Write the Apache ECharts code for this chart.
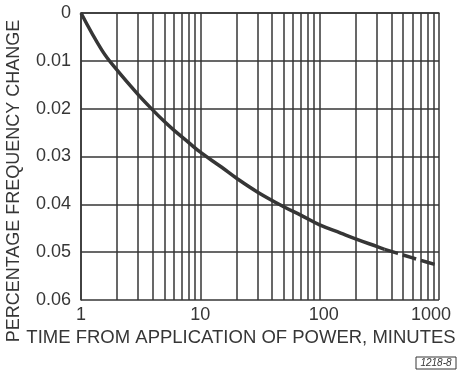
<!DOCTYPE html>
<html>
<head>
<meta charset="utf-8">
<script src="https://cdn.jsdelivr.net/npm/echarts@6/dist/echarts.min.js"></script>
<style>
  html, body { margin: 0; padding: 0; background: #fff; }
  #chart { width: 458px; height: 370px; }
</style>
</head>
<body>
<div id="chart"></div>
<script>
// time (minutes) vs percentage frequency change
var solidTime = [1, 1.5, 2, 3, 4, 5, 6, 8, 10, 15, 20, 30, 50, 70, 100, 150, 200, 300, 350];
var solidChange = [0, 0.0078, 0.0119, 0.0170, 0.0203, 0.0227, 0.0245, 0.0271, 0.0291, 0.0322,
                   0.0345, 0.0374, 0.0405, 0.0423, 0.0443, 0.0460, 0.0472, 0.0488, 0.0494];
var dashTime = [350, 500, 700, 1000];
var dashChange = [0.0494, 0.0506, 0.0517, 0.0528];
var minorTicks = [2, 3, 4, 5, 6, 7, 8, 9, 20, 30, 40, 50, 60, 70, 80, 90,
                  200, 300, 400, 500, 600, 700, 800, 900];
var yTicks = ['0', '0.01', '0.02', '0.03', '0.04', '0.05', '0.06'];

var ink = '#363636';
var font = 'Liberation Sans';

function pairs(xs, ys) {
  var out = [];
  for (var i = 0; i < xs.length; i++) out.push([xs[i], ys[i]]);
  return out;
}

var chart = echarts.init(document.getElementById('chart'));
var option = {
  animation: false,
  backgroundColor: '#fff',
  grid: { left: 81, right: 19, top: 13, bottom: 70 },
  xAxis: {
    type: 'log',
    logBase: 10,
    min: 1,
    max: 1000,
    axisLine: { show: true, lineStyle: { color: ink, width: 1.5 } },
    axisTick: { show: false },
    splitLine: { show: true, lineStyle: { color: ink, width: 1.5 } },
    axisLabel: {
      color: ink, fontFamily: font, fontSize: 18, margin: 6,
      formatter: function (v) {
        if (v >= 1000) return '{r|' + v + '}';
        if (v >= 100) return '{h|' + v + '}';
        return '{n|' + v + '}';
      },
      rich: {
        n: { fontFamily: font, fontSize: 18, color: ink },
        h: { fontFamily: font, fontSize: 18, color: ink, padding: [0, 0, 0, 8] },
        r: { fontFamily: font, fontSize: 18, color: ink, padding: [0, 16, 0, 0] }
      }
    }
  },
  yAxis: {
    type: 'value',
    inverse: true,
    min: 0,
    max: 0.06,
    interval: 0.01,
    axisLine: { show: true, lineStyle: { color: ink, width: 1.5 } },
    axisTick: { show: false },
    splitLine: { show: true, lineStyle: { color: ink, width: 1.5 } },
    axisLabel: {
      color: ink, fontFamily: font, fontSize: 18, margin: 10,
      formatter: function (v) { return yTicks[Math.round(v * 100)]; }
    }
  },
  graphic: [
    {
      type: 'text', x: 14, y: 181, rotation: Math.PI / 2,
      style: {
        text: 'PERCENTAGE FREQUENCY CHANGE', fill: ink,
        font: '18px "Liberation Sans"', textAlign: 'center', textVerticalAlign: 'middle'
      }
    },
    {
      type: 'text', x: 241, y: 338,
      style: {
        text: 'TIME FROM APPLICATION OF POWER, MINUTES', fill: ink,
        font: '18.5px "Liberation Sans"', textAlign: 'center', textVerticalAlign: 'middle'
      }
    },
    {
      type: 'rect', shape: { x: 416, y: 357, width: 40, height: 12 },
      style: { fill: '#fff', stroke: ink, lineWidth: 1 }
    },
    {
      type: 'text', x: 436, y: 363,
      style: {
        text: '1218-8', fill: ink, font: 'italic 10px "Liberation Sans"',
        textAlign: 'center', textVerticalAlign: 'middle'
      }
    }
  ],
  series: [
    {
      type: 'line',
      data: pairs(solidTime, solidChange),
      smooth: 0.4,
      showSymbol: false,
      lineStyle: { color: ink, width: 3.5 },
      markLine: {
        silent: true,
        symbol: ['none', 'none'],
        label: { show: false },
        lineStyle: { color: ink, width: 1.5, type: 'solid' },
        data: minorTicks.map(function (t) { return { xAxis: t }; })
      },
      z: 3
    },
    {
      type: 'line',
      data: pairs(dashTime, dashChange),
      smooth: 0.4,
      showSymbol: false,
      lineStyle: { color: ink, width: 3.5, type: [14, 5] },
      z: 3
    }
  ]
};
chart.setOption(option);
</script>
</body>
</html>
